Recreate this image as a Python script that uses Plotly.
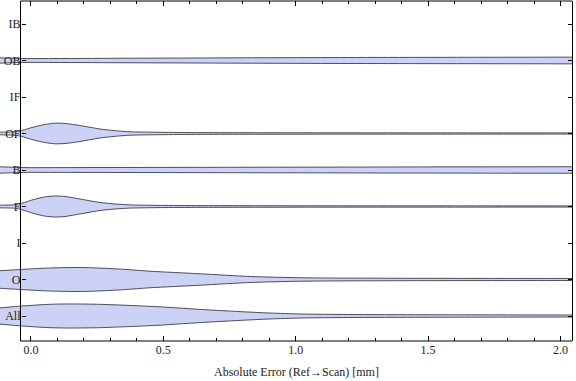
import plotly.graph_objects as go

# Categories (bottom to top) and their positions
categories = ["All", "O", "I", "F", "B", "OF", "IF", "OB", "IB"]
positions = [1, 2, 3, 4, 5, 6, 7, 8, 9]

# Density profiles: x grid (mm) and half-widths (category units)
all_x = [-0.30, -0.12, -0.04, 0.07, 0.15, 0.26, 0.37, 0.49, 0.64, 0.79, 0.90, 1.02, 1.20, 1.60, 2.00, 2.40, 2.70]
all_w = [0.12, 0.22, 0.27, 0.32, 0.33, 0.32, 0.29, 0.25, 0.18, 0.12, 0.082, 0.055, 0.041, 0.033, 0.028, 0.026, 0.026]

o_x = [-0.30, -0.12, -0.04, 0.07, 0.19, 0.33, 0.45, 0.64, 0.83, 1.02, 1.40, 2.00, 2.40, 2.70]
o_w = [0.12, 0.238, 0.274, 0.315, 0.329, 0.288, 0.227, 0.156, 0.082, 0.047, 0.033, 0.028, 0.026, 0.026]

f_x = [-0.30, -0.117, -0.06, -0.034, 0.008, 0.053, 0.091, 0.129, 0.185, 0.261, 0.318, 0.374, 0.488, 0.639, 1.016, 1.60, 2.10, 2.40, 2.70]
f_w = [0.020, 0.036, 0.049, 0.088, 0.186, 0.263, 0.288, 0.274, 0.205, 0.110, 0.068, 0.044, 0.030, 0.024, 0.019, 0.017, 0.016, 0.016, 0.016]

b_x = [-0.30, 0.00, 0.30, 0.60, 0.90, 1.20, 1.50, 1.80, 2.10, 2.40, 2.70]
b_w = [0.062, 0.064, 0.068, 0.072, 0.076, 0.080, 0.084, 0.087, 0.090, 0.090, 0.090]

of_x = [-0.30, -0.117, -0.06, -0.034, 0.008, 0.053, 0.091, 0.129, 0.185, 0.261, 0.318, 0.374, 0.488, 0.639, 1.016, 1.60, 2.10, 2.40, 2.70]
of_w = [0.020, 0.036, 0.049, 0.082, 0.173, 0.247, 0.282, 0.274, 0.219, 0.123, 0.077, 0.047, 0.033, 0.024, 0.019, 0.017, 0.016, 0.016, 0.016]

ob_x = [-0.30, 0.00, 0.30, 0.60, 0.90, 1.20, 1.50, 1.80, 2.10, 2.40, 2.70]
ob_w = [0.048, 0.052, 0.060, 0.068, 0.076, 0.082, 0.086, 0.089, 0.092, 0.092, 0.092]

profiles = {
    "All": (all_x, all_w),
    "O": (o_x, o_w),
    "F": (f_x, f_w),
    "B": (b_x, b_w),
    "OF": (of_x, of_w),
    "OB": (ob_x, ob_w),
}

x_major = [0.0, 0.5, 1.0, 1.5, 2.0]
x_minor = [round(i * 0.1, 1) for i in range(21) if i % 5 != 0]

FILL = "#CCD2F5"
EDGE = "rgba(60,60,72,0.9)"
FONT = "Liberation Serif"

fig = go.Figure()
for name, pos in zip(categories, positions):
    if name not in profiles:
        continue
    xs, ws = profiles[name]
    px = list(xs) + list(reversed(xs)) + [xs[0]]
    py = [pos + w for w in ws] + [pos - w for w in reversed(ws)] + [pos + ws[0]]
    fig.add_trace(go.Scatter(
        x=px, y=py, mode="lines", fill="toself", fillcolor=FILL,
        line=dict(color=EDGE, width=1, shape="spline", smoothing=0.7),
        hoverinfo="skip", showlegend=False,
    ))

# dummy trace to activate right mirror axis
fig.add_trace(go.Scatter(x=[1.0], y=[5], yaxis="y2", mode="markers",
                         marker=dict(opacity=0), hoverinfo="skip", showlegend=False))

yaxis_pos = 20.5 / 572
yr = [0.315, 9.63]

fig.update_layout(
    width=576, height=381,
    margin=dict(l=0, r=4, t=1, b=40, autoexpand=False),
    paper_bgcolor="white", plot_bgcolor="white",
    font=dict(family=FONT, size=12, color="#222"),
    xaxis=dict(
        range=[-0.1167, 2.0434], showgrid=False, zeroline=False, showline=False,
        automargin=False,
        tickmode="array", tickvals=x_major, ticktext=[f"{v:.1f}" for v in x_major],
        ticks="inside", ticklen=5, tickcolor="black", tickwidth=1, mirror="ticks",
        minor=dict(tickmode="array", tickvals=x_minor, ticks="inside", ticklen=3,
                   tickcolor="black", tickwidth=1, showgrid=False),
        tickfont=dict(family=FONT, size=12, color="#222"),
    ),
    yaxis=dict(
        range=yr, anchor="free", position=yaxis_pos, showgrid=False, zeroline=False,
        showline=False, automargin=False,
        tickmode="array", tickvals=positions, ticktext=categories,
        ticks="inside", ticklen=4, tickcolor="black", tickwidth=1,
        tickfont=dict(family=FONT, size=12, color="#222"),
    ),
    yaxis2=dict(
        range=yr, overlaying="y", side="right", anchor="x", showgrid=False, zeroline=False,
        showline=True, linecolor="black", linewidth=1, showticklabels=False,
        automargin=False,
        tickmode="array", tickvals=positions,
        ticks="inside", ticklen=4, tickcolor="black", tickwidth=1,
    ),
    shapes=[
        dict(type="line", xref="paper", yref="paper", x0=yaxis_pos, x1=1, y0=0, y1=0,
             line=dict(color="black", width=1)),
        dict(type="line", xref="paper", yref="paper", x0=yaxis_pos, x1=1, y0=1, y1=1,
             line=dict(color="black", width=1)),
        dict(type="line", xref="paper", yref="paper", x0=yaxis_pos, x1=yaxis_pos, y0=0, y1=1,
             line=dict(color="black", width=1)),
    ],
    annotations=[
        dict(text="Absolute Error (Ref\u2192Scan) [mm]", xref="paper", yref="paper",
             x=(yaxis_pos + 1) / 2, y=-31 / 340, xanchor="center", yanchor="middle",
             showarrow=False, font=dict(family=FONT, size=12, color="#222")),
    ],
)

fig.write_html("out.html", config={"displayModeBar": False},
               post_script="document.body.style.margin='0';document.body.style.padding='0';")
